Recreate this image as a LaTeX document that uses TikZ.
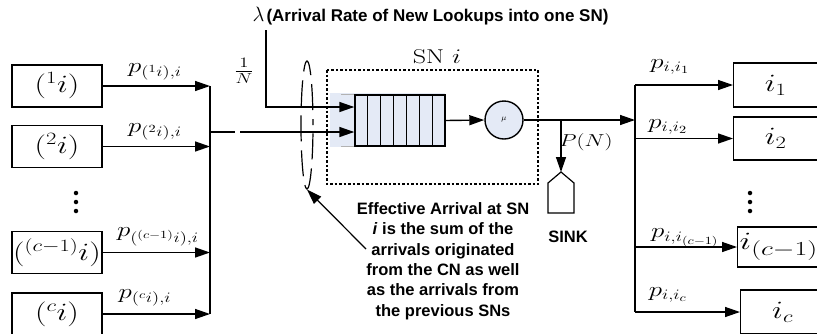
\documentclass[tikz,border=0pt]{standalone}
\usepackage{fontspec}
\usepackage{graphicx}
\setsansfont{Liberation Sans}
\usetikzlibrary{arrows.meta,calc,shapes.geometric}
\definecolor{qblue}{RGB}{228,234,246}
% widened math, as set in the figure
\newcommand{\wm}[1]{\scalebox{1.3}[1]{$#1$}}
\begin{document}
\begin{tikzpicture}[x=1pt,y=-1pt,line width=1.4pt,
  arr/.style={-{Triangle[length=15pt,width=10pt]}},
  srcbox/.style={draw,minimum width=90pt,minimum height=42pt,inner sep=0pt,font=\fontsize{24}{28}\selectfont},
  dstbox/.style={draw,anchor=west,minimum width=84pt,inner sep=0pt,font=\fontsize{27}{30}\selectfont},
  lbl/.style={inner sep=0pt,font=\fontsize{21}{25}\selectfont},
  vdot/.style={circle,fill,inner sep=0pt,minimum size=4.5pt},
  note/.style={align=center,inner sep=0pt,font=\sffamily\bfseries\fontsize{16.5}{20.4}\selectfont}]
\useasboundingbox (0,0) rectangle (817,333);
\clip (0,0) rectangle (817,333);

% ---- source nodes and their collector
\node[srcbox] (s1) at (57,86) {\wm{({}^1i)}};
\node[srcbox] (s2) at (57,146.5) {\wm{({}^2i)}};
\foreach \yy [count=\n] in {193,202,211} \node[vdot] (sd\n) at (76,\yy) {};
\node[srcbox] (s3) at (57,252.5) {\wm{({}^{(c-1)}i)}};
\node[srcbox] (s4) at (57,314) {\wm{({}^ci)}};
\coordinate (colL) at (210,0);
\foreach \s in {s1,s2,s3,s4}
  \draw[arr] (\s.east) -- (\s.east -| colL);
\draw (s1.east -| colL) -- (s4.east -| colL);
\node[lbl] (p1) at (155,72) {\wm{p_{({}^1i),i}}};
\node[lbl] (p2) at (155,132) {\wm{p_{({}^2i),i}}};
\node[lbl] (p3) at (158,237) {\wm{p_{({}^{(c-1)}i),i}}};
\node[lbl] (p4) at (145,298) {\wm{p_{({}^ci),i}}};

% ---- service node SN i
\node[font=\fontsize{20}{24}\selectfont] (snlbl) at (437,57) {\wm{\mathrm{SN}\ i}};
\draw[dash pattern=on 2.5pt off 2pt,line width=1.2pt] (327,70) rectangle (538,184);
\fill[qblue] (330,93) rectangle (445,147);
\node[draw,minimum width=90pt,minimum height=51pt,inner sep=0pt] (q) at (400,120.5) {};
\foreach \k in {1,...,6}
  \draw ($(q.north west)!\k/7!(q.north east)$) -- ($(q.south west)!\k/7!(q.south east)$);
\draw[gray!60,line width=1pt] (q.north west) -- ++(-13,0) (q.south west) -- ++(-13,0);
\node[circle,draw,fill=qblue,minimum size=38pt,inner sep=0pt,font=\fontsize{8}{9}\selectfont] (srv) at (504,120) {$\mu$};
\draw[arr] (q.east) -- (srv.west);

% ---- arrivals into the queue
\coordinate (in1) at (q.west |- 0,107);
\coordinate (in2) at (q.west |- 0,132);
\node[anchor=west,inner sep=0pt] (lam) at (252,16)
  {\fontsize{20}{22}\selectfont$\lambda$\hspace{2pt}{\sffamily\bfseries\fontsize{17}{20}\selectfont(Arrival Rate of New Lookups into one SN)}};
\coordinate (lamfoot) at (266,30);
\draw[arr] (lamfoot) |- (in1);
\node[lbl,font=\fontsize{22}{26}\selectfont] (oneN) at (244,71) {\wm{\frac{1}{N}}};
\coordinate (gapA) at (235,132);
\coordinate (gapB) at (240,132);
\draw (colL |- in2) -- (gapA);
\draw[arr] (gapB) -- (in2);
\node[ellipse,draw,dash pattern=on 26pt off 9pt,dash phase=20pt,line width=1.2pt,minimum width=12pt,minimum height=128pt,inner sep=0pt] (fence) at (307,125) {};

% ---- note on the effective arrival
\node[note] (eff) at (443,261) {Effective Arrival at SN\\\textit{i} is the sum of the\\arrivals originated\\from the CN as well\\as the arrivals from\\the previous SNs};
\coordinate (ntail) at (366,249);
\draw[arr,line width=1.2pt] (ntail) -- (fence.south);

% ---- departure: sink and routing
\coordinate (colR) at (635,0);
\draw[arr] (srv.east) -- (srv.east -| colR);
\coordinate (tap) at (561,120);
\coordinate (sinktop) at (561,172);
\draw[arr] (tap) -- (sinktop);
\draw[line width=1.2pt] (sinktop) -- ++(-13,11) -- ++(0,30) -- ++(26,0) -- ++(0,-30) -- cycle;
\node[lbl,font=\fontsize{17}{20}\selectfont] (pn) at (586,142) {\wm{P(N)}};
\node[note] (sink) at (568,237) {SINK};

\node[dstbox,minimum height=44pt] (d1) at (733,85) {\wm{i_1}};
\node[dstbox,minimum height=43pt] (d2) at (733,138.5) {\wm{i_2}};
\foreach \yy [count=\n] in {193,202,211} \node[vdot] (dd\n) at (750,\yy) {};
\node[dstbox,minimum height=40pt,text width=84pt,align=left] (d3) at (737,247)
  {\hspace*{2pt}\scalebox{1.4}[1]{$i_{\scalebox{1.15}{$\scriptstyle(c-1)$}}$}};
\node[dstbox,minimum height=44pt] (d4) at (740,312) {\wm{i_c}};
\foreach \d in {d1,d2,d3,d4}
  \draw[arr] (\d.west -| colR) -- (\d.west);
\draw (d1.west -| colR) -- (d4.west -| colR);
\node[lbl] (q1) at (670,67) {\wm{p_{i,i_1}}};
\node[lbl] (q2) at (668,127) {\wm{p_{i,i_2}}};
\node[lbl] (q3) at (685,238) {\wm{p_{i,i_{(c-1)}}}};
\node[lbl] (q4) at (668,295) {\wm{p_{i,i_c}}};
\end{tikzpicture}
\end{document}
